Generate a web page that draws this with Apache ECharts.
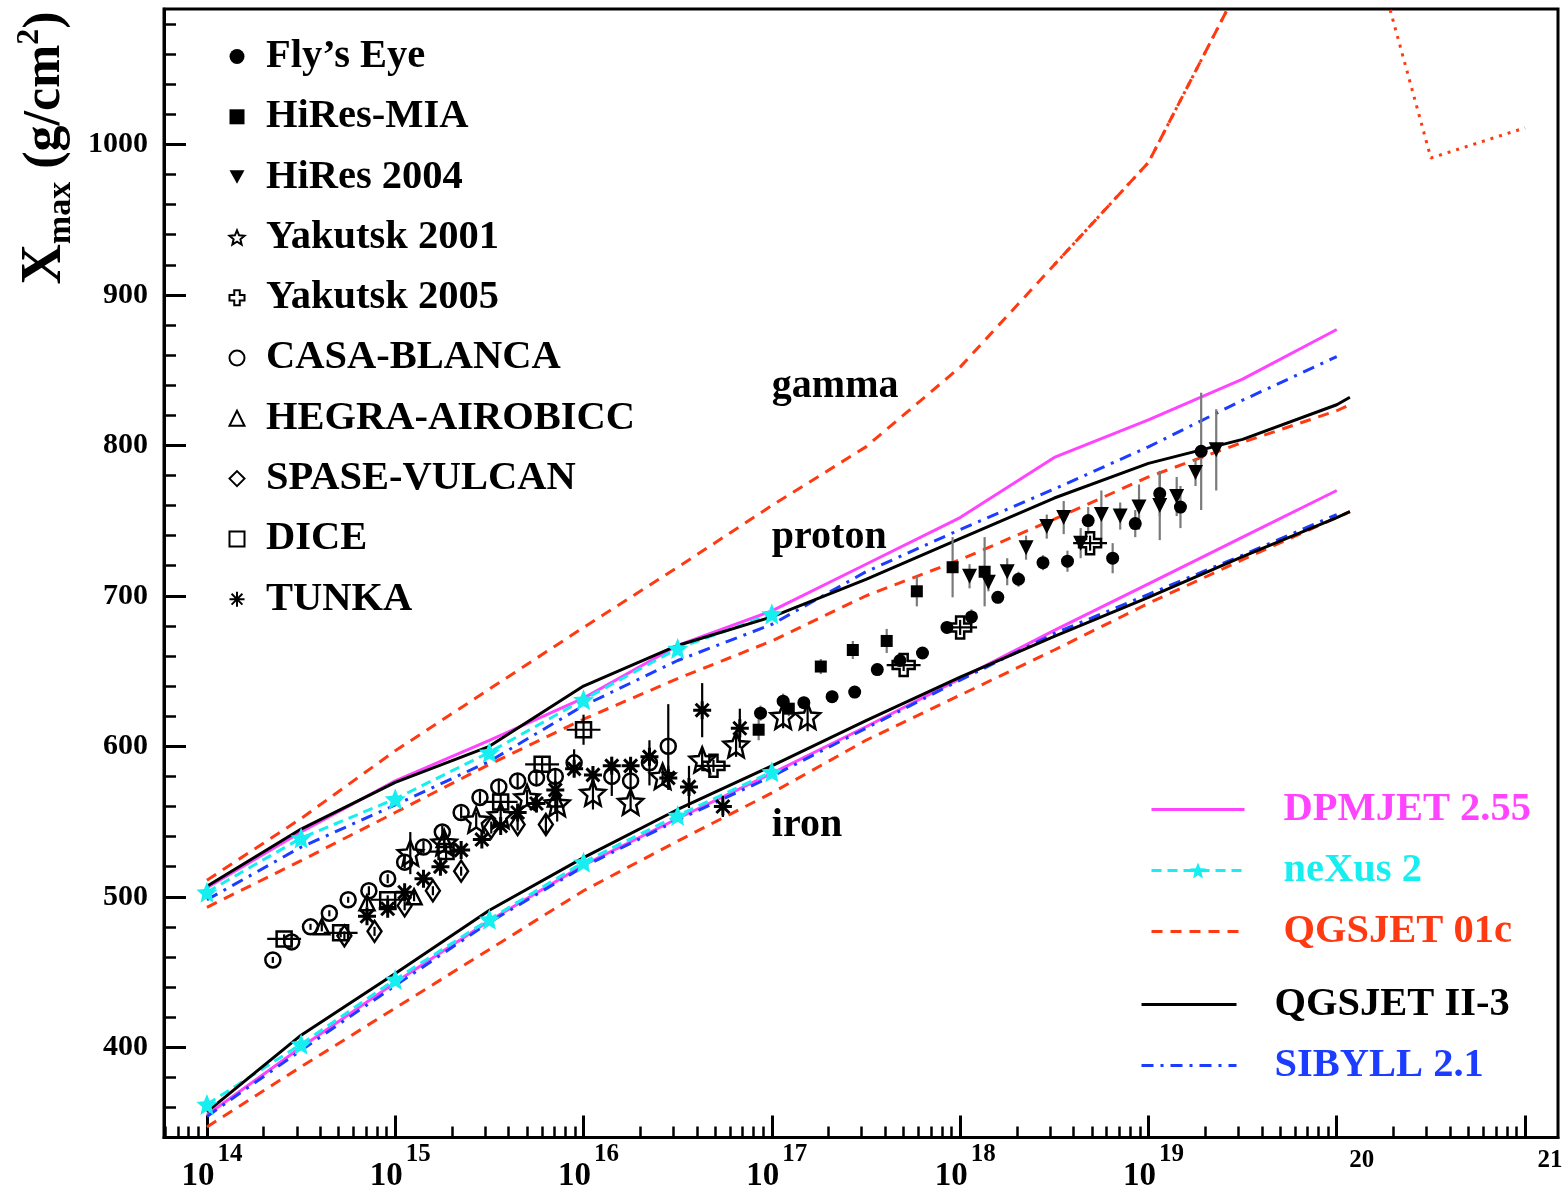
<!DOCTYPE html>
<html>
<head>
<meta charset="utf-8">
<script src="https://cdn.jsdelivr.net/npm/echarts@6/dist/echarts.min.js"></script>
<style>
  html, body { margin: 0; padding: 0; background: #fff; }
  #chart { width: 1566px; height: 1197px; }
</style>
</head>
<body>
<div id="chart"></div>
<script>
// ---- Energies are log10(E / eV); depths are Xmax in g/cm^2 ----

// model curve energies
const lgE      = [14, 14.5, 15, 15.5, 16, 16.5, 17, 17.5, 18, 18.5, 19, 19.5, 20];
const lgEExt   = [14, 14.5, 15, 15.5, 16, 16.5, 17, 17.5, 18, 18.5, 19, 19.5, 20, 20.07];
const lgENexus = [14, 14.5, 15, 15.5, 16, 16.5, 17];

// DPMJET 2.55
const dpmjetProton = [506, 543, 577, 604, 632, 667, 690, 721, 752, 792, 817, 844, 877];
const dpmjetIron   = [355, 400, 443, 484, 521, 552, 582, 613, 645, 677, 708, 739, 770];
// neXus 2
const nexusProton = [503, 539, 565, 596, 631, 665, 688];
const nexusIron   = [362, 402, 445, 485, 523, 554, 583];
// QGSJET 01c
const qgs01Proton = [493, 524, 556, 588, 618, 645, 670, 700, 724, 751, 779, 802, 823, 827];
const qgs01Iron   = [347, 387, 426, 465, 504, 537, 569, 604, 634, 664, 695, 724, 752, 756];
const gammaE      = [14, 14.5, 15, 15.5, 16, 16.5, 17, 17.5, 18, 18.5, 19, 19.42, 19.6];
const qgs01Gamma  = [511, 552, 597, 638, 679, 719, 760, 799, 852, 920, 988, 1090, 1150];
const gammaPreE   = [18.5, 19, 19.42, 19.6, 20.1, 20.5, 21.0];
const gammaPre    = [920, 988, 1090, 1150, 1173, 991, 1011];
// QGSJET II-3
const qgs2Proton = [507, 545, 576, 600, 640, 667, 686, 711, 738, 765, 788, 804, 827, 832];
const qgs2Iron   = [357, 408, 449, 491, 526, 558, 587, 617, 646, 673, 699, 726, 752, 756];
// SIBYLL 2.1
const sibyllProton = [498, 533, 561, 590, 627, 657, 681, 716, 744, 771, 799, 830, 859];
const sibyllIron   = [354, 398, 441, 483, 520, 551, 580, 612, 644, 675, 701, 727, 754];

// measurements: [lgE, Xmax, dXmax, dlgE]
const flysEye = [
  [16.94, 622, 5], [17.06, 630, 5], [17.17, 629, 4], [17.32, 633, 4], [17.44, 636, 4],
  [17.56, 651, 4], [17.68, 657, 4], [17.80, 662, 4], [17.93, 679, 4], [18.06, 686, 5],
  [18.20, 699, 4], [18.31, 711, 5], [18.44, 722, 5], [18.57, 723, 7], [18.68, 750, 9],
  [18.81, 725, 10], [18.93, 748, 9], [19.06, 768, 15], [19.17, 759, 14], [19.28, 796, 39]
];
const hiresMia = [
  [16.93, 611, 7], [17.09, 625, 5], [17.26, 653, 5], [17.43, 664, 6],
  [17.61, 670, 8], [17.77, 703, 10], [17.96, 719, 20], [18.13, 716, 23]
];
const hires2004 = [
  [18.05, 713, 8], [18.15, 709, 6], [18.25, 716, 9], [18.35, 732, 8], [18.46, 746, 8],
  [18.55, 752, 11], [18.64, 735, 10], [18.75, 754, 16], [18.85, 753, 9], [18.95, 759, 15],
  [19.06, 760, 23], [19.15, 766, 13], [19.25, 782, 9], [19.36, 797, 27]
];
const yakutsk2001 = [
  [15.08, 529, 14], [15.26, 536, 5], [15.43, 551, 5], [15.56, 554, 4], [15.70, 566, 5],
  [15.86, 562, 12], [16.05, 569, 11], [16.25, 563, 5], [16.42, 580, 6], [16.63, 591, 6],
  [16.81, 601, 8], [17.06, 620, 8], [17.19, 620, 10]
];
const yakutsk2005 = [
  [16.69, 587, 4, 0.09], [17.70, 654, 4, 0.09], [18.00, 679, 5, 0.09], [18.69, 735, 5, 0.09]
];
const casaBlanca = [
  [14.35, 458, 2], [14.45, 470, 2], [14.55, 480, 2], [14.65, 489, 2], [14.75, 498, 2],
  [14.86, 504, 3], [14.96, 512, 3], [15.05, 523, 4], [15.15, 533, 4], [15.25, 543, 4],
  [15.35, 556, 4], [15.45, 566, 4], [15.55, 573, 4], [15.65, 577, 5], [15.75, 579, 5],
  [15.85, 580, 5], [15.95, 589, 9], [16.15, 580, 13], [16.25, 577, 10], [16.35, 589, 15],
  [16.45, 600, 28]
];
const hegra = [
  [14.61, 480, 3], [14.85, 496, 3], [15.10, 500, 3], [15.26, 538, 4], [15.85, 565, 10]
];
const spase = [
  [14.73, 474, 3], [14.89, 477, 3], [15.05, 494, 3], [15.20, 504, 3],
  [15.35, 517, 3], [15.51, 546, 4], [15.65, 548, 4], [15.80, 548, 6]
];
const dice = [
  [14.41, 472, 3, 0.09], [14.71, 476, 3, 0.09], [14.96, 498, 3, 0.09], [15.27, 530, 5, 0.09],
  [15.56, 563, 5, 0.09], [15.78, 588, 5, 0.09], [16.00, 611, 10, 0.09]
];
const tunka = [
  [14.85, 487, 3], [14.96, 492, 3], [15.05, 503, 3], [15.15, 512, 3], [15.24, 520, 3],
  [15.35, 531, 3], [15.46, 538, 3], [15.56, 547, 3], [15.65, 556, 4], [15.75, 562, 4],
  [15.85, 571, 5], [15.95, 585, 5], [16.05, 581, 5], [16.15, 587, 5], [16.25, 587, 5],
  [16.35, 593, 6], [16.45, 579, 8], [16.56, 573, 14], [16.63, 624, 18], [16.74, 560, 7],
  [16.83, 612, 13]
];

// curve annotations
const curveLabels = [
  { name: 'gamma',  value: [17.0, 839] },
  { name: 'proton', value: [17.0, 738.5] },
  { name: 'iron',   value: [17.0, 547] }
];

// axis ticks
const xMajor = [14, 15, 16, 17, 18, 19, 20, 21];
const yMajor = [400, 500, 600, 700, 800, 900, 1000];
const yMinor = [];
for (let v = 360; v <= 1080; v += 20) if (v % 100 !== 0) yMinor.push(v);
const xMinor = [];
for (let n = 13; n <= 21; n++) for (let k = 2; k <= 9; k++) {
  const v = n + Math.log10(k);
  if (v >= 13.772 && v <= 21.175) xMinor.push(v);
}

// ---- styling ----
const FONT = "'Liberation Serif', 'Times New Roman', serif";
const zip = (xs, ys) => xs.map((x, i) => [x, ys[i]]);

const STAR = 'path://M0,-10 L2.645,-3.64 L9.51,-3.09 L4.28,1.39 L5.88,8.09 L0,4.5 L-5.88,8.09 L-4.28,1.39 L-9.51,-3.09 L-2.645,-3.64 Z';
const CROSS = 'path://M-1.1,-3 L1.1,-3 L1.1,-1.1 L3,-1.1 L3,1.1 L1.1,1.1 L1.1,3 L-1.1,3 L-1.1,1.1 L-3,1.1 L-3,-1.1 L-1.1,-1.1 Z';
const DOWN_TRI = 'path://M-1,-0.9 L1,-0.9 L0,0.9 Z';
const ASTER = 'path://M0,-1 L0,1 M-1,0 L1,0 M-0.72,-0.72 L0.72,0.72 M-0.72,0.72 L0.72,-0.72';

const HOLLOW = { color: 'rgba(0,0,0,0)', borderColor: '#000', borderWidth: 2.5 };
const FILLED = { color: '#000', borderColor: '#000', borderWidth: 0 };

const markerSets = [
  { name: 'Fly’s Eye',      data: flysEye,     symbol: 'circle', size: 13, style: FILLED, bar: '#7a7a7a' },
  { name: 'HiRes-MIA',      data: hiresMia,    symbol: 'rect',   size: 12, style: FILLED, bar: '#7a7a7a' },
  { name: 'HiRes 2004',     data: hires2004,   symbol: DOWN_TRI, size: 15, style: FILLED, bar: '#7a7a7a' },
  { name: 'Yakutsk 2001',   data: yakutsk2001, symbol: STAR,     size: 25, style: HOLLOW, bar: '#000' },
  { name: 'Yakutsk 2005',   data: yakutsk2005, symbol: CROSS,    size: 22, style: HOLLOW, bar: '#000' },
  { name: 'CASA-BLANCA',    data: casaBlanca,  symbol: 'circle', size: 15, style: HOLLOW, bar: '#000' },
  { name: 'HEGRA-AIROBICC', data: hegra,       symbol: 'triangle', size: 15, style: HOLLOW, bar: '#000' },
  { name: 'SPASE-VULCAN',   data: spase,       symbol: 'diamond', size: [14, 21], style: HOLLOW, bar: '#000' },
  { name: 'DICE',           data: dice,        symbol: 'rect',   size: 15, style: HOLLOW, bar: '#000' },
  { name: 'TUNKA',          data: tunka,       symbol: ASTER,    size: 18, style: { color: '#000', borderColor: '#000', borderWidth: 3 }, bar: '#000' }
];

const C_DPM = '#ff44ff', C_NEX = '#16eef0', C_Q01 = '#ff3a12', C_Q2 = '#000000', C_SIB = '#1c3cff';

function curve(name, pts, color, type, extra) {
  return Object.assign({
    type: 'line', name, data: pts, z: 2, silent: true,
    showSymbol: false, symbol: 'none', smooth: false,
    lineStyle: { color, width: 3, type },
    itemStyle: { color }
  }, extra || {});
}

const nexusExtra = { showSymbol: true, symbol: STAR, symbolSize: 21, itemStyle: { color: C_NEX, borderWidth: 0 } };

function errorBars(name, data, color) {
  return {
    type: 'custom', name, data, z: 3, silent: true,
    encode: { x: 0, y: 1 },
    renderItem(params, api) {
      const x = api.value(0), y = api.value(1);
      const ey = api.value(2) || 0, ex = api.value(3) || 0;
      const style = { stroke: color, lineWidth: 2.2 };
      const children = [];
      if (ey > 0) {
        const a = api.coord([x, y - ey]), b = api.coord([x, y + ey]);
        children.push({ type: 'line', shape: { x1: a[0], y1: a[1], x2: b[0], y2: b[1] }, style });
      }
      if (ex > 0) {
        const a = api.coord([x - ex, y]), b = api.coord([x + ex, y]);
        children.push({ type: 'line', shape: { x1: a[0], y1: a[1], x2: b[0], y2: b[1] }, style });
      }
      return { type: 'group', children };
    }
  };
}

const series = [
  curve('DPMJET 2.55', zip(lgE, dpmjetProton), C_DPM, 'solid'),
  curve('DPMJET 2.55', zip(lgE, dpmjetIron), C_DPM, 'solid'),
  curve('QGSJET 01c', zip(lgEExt, qgs01Proton), C_Q01, [11, 8]),
  curve('QGSJET 01c', zip(lgEExt, qgs01Iron), C_Q01, [11, 8]),
  curve('QGSJET 01c', zip(gammaE, qgs01Gamma), C_Q01, [11, 8]),
  curve('QGSJET 01c gamma preshower', zip(gammaPreE, gammaPre), C_Q01, [3, 6]),
  curve('SIBYLL 2.1', zip(lgE, sibyllProton), C_SIB, [12, 7, 3, 7]),
  curve('SIBYLL 2.1', zip(lgE, sibyllIron), C_SIB, [12, 7, 3, 7]),
  curve('neXus 2', zip(lgENexus, nexusProton), C_NEX, [10, 6], nexusExtra),
  curve('neXus 2', zip(lgENexus, nexusIron), C_NEX, [10, 6], nexusExtra),
  curve('QGSJET II-3', zip(lgEExt, qgs2Proton), C_Q2, 'solid'),
  curve('QGSJET II-3', zip(lgEExt, qgs2Iron), C_Q2, 'solid')
];

markerSets.forEach(m => {
  series.push(errorBars(m.name + ' errors', m.data, m.bar));
});
markerSets.forEach(m => {
  series.push({
    type: 'scatter', name: m.name, z: 4, silent: true,
    data: m.data.map(d => [d[0], d[1]]),
    symbol: m.symbol, symbolSize: m.size,
    itemStyle: Object.assign({ opacity: 1 }, m.style)
  });
});

series.push({
  type: 'scatter', name: 'curve labels', z: 5, silent: true,
  data: curveLabels, symbolSize: 0,
  itemStyle: { opacity: 1, color: '#000' },
  label: {
    show: true, position: 'right', distance: 0, formatter: '{b}',
    fontFamily: FONT, fontWeight: 'bold', fontSize: 40, color: '#000', opacity: 1
  }
});

const axisLineStyle = { color: '#000', width: 3 };
const legendFont = { fontFamily: FONT, fontWeight: 'bold', fontSize: 40.5, lineHeight: 40 };

const option = {
  animation: false,
  backgroundColor: '#fff',
  grid: {
    left: 164, right: 8, top: 9, bottom: 59.5,
    show: true, borderColor: '#000', borderWidth: 3,
    containLabel: false, outerBoundsMode: 'none'
  },
  xAxis: [
    {
      type: 'value', min: 13.772, max: 21.175, position: 'bottom',
      axisLine: { show: true, lineStyle: axisLineStyle },
      splitLine: { show: false },
      axisTick: { show: true, inside: true, length: 22, lineStyle: { color: '#000', width: 3 }, customValues: xMajor },
      axisLabel: {
        customValues: xMajor, margin: 5,
        formatter: v => {
          const e = Math.round(v);
          return e >= 20 ? '{solo|' + e + '}' : '{base|10}{sup|' + e + '}';
        },
        rich: {
          base: { fontFamily: FONT, fontWeight: 'bold', fontSize: 33, color: '#000', lineHeight: 50, verticalAlign: 'bottom', padding: [0, 0, 0, 10] },
          sup:  { fontFamily: FONT, fontWeight: 'bold', fontSize: 25, color: '#000', lineHeight: 26, verticalAlign: 'top', padding: [0, 0, 0, 3] },
          solo: { fontFamily: FONT, fontWeight: 'bold', fontSize: 25, color: '#000', lineHeight: 26, verticalAlign: 'top', padding: [6, 0, 18, 50] }
        }
      }
    },
    {
      type: 'value', min: 13.772, max: 21.175, position: 'bottom',
      axisLine: { show: false },
      splitLine: { show: false },
      axisTick: { show: true, inside: true, length: 11, lineStyle: { color: '#000', width: 2.5 }, customValues: xMinor },
      axisLabel: { show: false }
    }
  ],
  yAxis: [
    {
      type: 'value', min: 340, max: 1090, position: 'left',
      axisLine: { show: true, lineStyle: axisLineStyle },
      splitLine: { show: false },
      axisTick: { show: true, inside: true, length: 22, lineStyle: { color: '#000', width: 3 }, customValues: yMajor },
      axisLabel: {
        customValues: yMajor, margin: 16,
        formatter: v => String(Math.round(v)),
        fontFamily: FONT, fontWeight: 'bold', fontSize: 30, color: '#000'
      }
    },
    {
      type: 'value', min: 340, max: 1090, position: 'left',
      axisLine: { show: false },
      splitLine: { show: false },
      axisTick: { show: true, inside: true, length: 12, lineStyle: { color: '#000', width: 2.5 }, customValues: yMinor },
      axisLabel: { show: false }
    }
  ],
  legend: [
    {
      orient: 'vertical', left: 228.5, top: 36, padding: 0,
      itemWidth: 15, itemHeight: 15, itemGap: 19.3, selectedMode: false,
      textStyle: Object.assign({ color: '#000', padding: [0, 0, 0, 16.5] }, legendFont),
      data: markerSets.map(m => m.name)
    },
    {
      orient: 'vertical', left: 1150, top: 789, padding: 0,
      itemWidth: 93, itemHeight: 20, itemGap: 20, selectedMode: false,
      itemStyle: { opacity: 0 },
      lineStyle: { width: 3 },
      textStyle: Object.assign({ padding: [0, 0, 0, 34] }, legendFont),
      data: [
        { name: 'DPMJET 2.55', textStyle: { color: C_DPM } },
        { name: 'neXus 2', textStyle: { color: C_NEX }, itemStyle: { opacity: 1 } },
        { name: 'QGSJET 01c', textStyle: { color: C_Q01 } }
      ]
    },
    {
      orient: 'vertical', left: 1140, top: 984, padding: 0,
      itemWidth: 95, itemHeight: 20, itemGap: 20, selectedMode: false,
      itemStyle: { opacity: 0 },
      lineStyle: { width: 3 },
      textStyle: Object.assign({ padding: [0, 0, 0, 33] }, legendFont),
      data: [
        { name: 'QGSJET II-3', textStyle: { color: '#000' } },
        { name: 'SIBYLL 2.1', textStyle: { color: C_SIB } }
      ]
    }
  ],
  graphic: [
    {
      type: 'text', x: 46, y: 148, rotation: Math.PI / 2, silent: true,
      style: {
        text: '{x|X}{sub|max}{p| (g/cm}{sup|2}{p|)}',
        align: 'center', verticalAlign: 'middle',
        rich: {
          x:   { fontFamily: FONT, fontWeight: 'bold', fontSize: 56, fill: '#000', lineHeight: 64, verticalAlign: 'middle' },
          sub: { fontFamily: FONT, fontWeight: 'bold', fontSize: 34, fill: '#000', lineHeight: 34, verticalAlign: 'bottom' },
          p:   { fontFamily: FONT, fontWeight: 'bold', fontSize: 52, fill: '#000', lineHeight: 64, verticalAlign: 'middle' },
          sup: { fontFamily: FONT, fontWeight: 'bold', fontSize: 32, fill: '#000', lineHeight: 32, verticalAlign: 'top' }
        }
      }
    }
  ],
  series
};

const chart = echarts.init(document.getElementById('chart'), null, { renderer: 'canvas' });
chart.setOption(option);
</script>
</body>
</html>
